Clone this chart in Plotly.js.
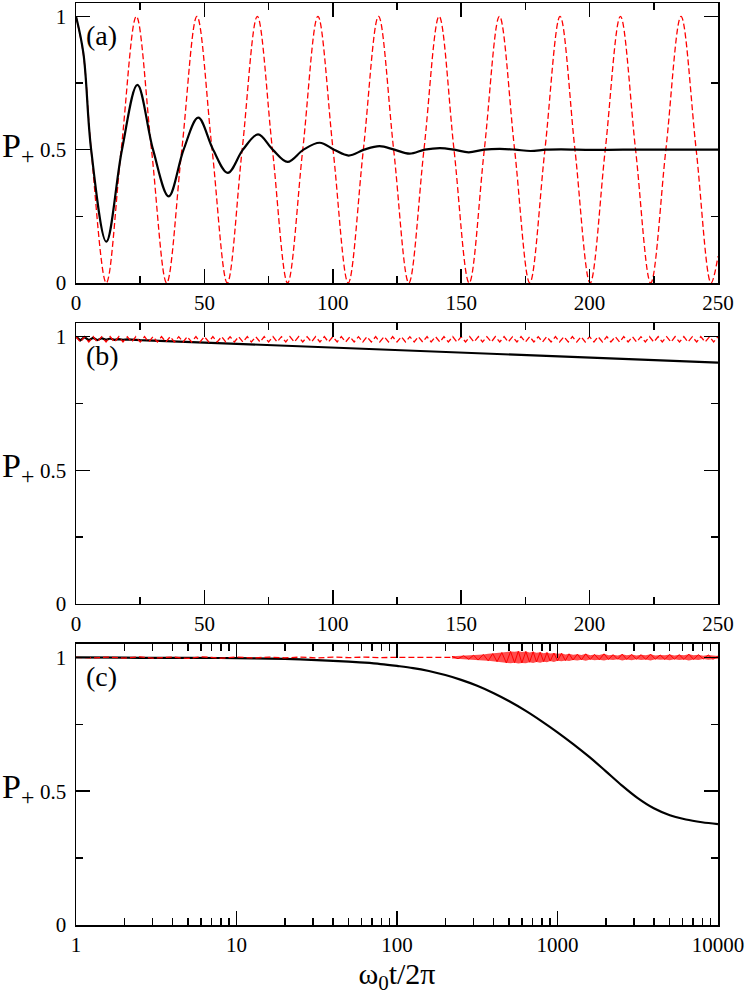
<!DOCTYPE html>
<html>
<head>
<meta charset="utf-8">
<script src="https://cdn.plot.ly/plotly-3.0.1.min.js"></script>
<style>
  html, body { margin: 0; padding: 0; background: #fff; }
  #chart { width: 747px; height: 995px; }
</style>
</head>
<body>
<div id="chart"></div>
<script>
// Panel (a): resonant drive — read at quarter periods
const aRedX = [0, 2.9, 5.9, 11.8, 17.6, 23.5, 29.4, 35.3, 41.2, 47.1, 53.0, 58.9, 64.7, 70.6, 76.5, 82.4,
  88.3, 94.2, 100.1, 106.0, 111.9, 117.8, 123.7, 129.6, 135.5, 141.4, 147.2, 153.1, 159.0, 164.9,
  170.8, 176.7, 182.6, 188.5, 194.3, 200.2, 206.1, 212.0, 217.9, 223.8, 229.7, 235.6, 241.5, 247.3, 250];
const aRedY = [1, 0.855, 0.5, 0, 0.5, 1, 0.5, 0, 0.5, 1, 0.5, 0, 0.5, 1, 0.5, 0,
  0.5, 1, 0.5, 0, 0.5, 1, 0.5, 0, 0.5, 1, 0.5, 0, 0.5, 1,
  0.5, 0, 0.5, 1, 0.5, 0, 0.5, 1, 0.5, 0, 0.5, 1, 0.5, 0, 0.1];
const aBlackX = [0, 2.9, 5.9, 11.8, 17.9, 23.9, 30.0, 36.1, 41.9, 47.6, 53.4, 59.1, 65.0, 70.9, 76.6, 82.4,
  88.6, 94.9, 100.5, 106.2, 112.2, 118.2, 124.0, 129.9, 135.8, 141.7, 147.3, 152.9, 158.9, 165.0,
  171.0, 177.0, 183.0, 189.0, 201.0, 213.0, 250];
const aBlackY = [1, 0.86, 0.5, 0.155, 0.5, 0.743, 0.5, 0.325, 0.5, 0.62, 0.5, 0.413, 0.5, 0.557, 0.5, 0.454,
  0.5, 0.526, 0.5, 0.478, 0.5, 0.513, 0.5, 0.485, 0.5, 0.506, 0.5, 0.49, 0.5, 0.503,
  0.5, 0.495, 0.5, 0.501, 0.499, 0.5, 0.5];

// Panel (b): detuned drive — fast small oscillation
const bRedX = [0,1.7,3.3,5,6.7,8.3,10,11.7,13.3,15,16.7,18.3,20,21.7,23.3,25,26.7,28.3,30,31.7,33.3,
  35,36.7,38.3,40,41.7,43.3,45,46.7,48.3,50,51.7,53.3,55,56.7,58.3,60,61.7,63.3,65,66.7,68.3,70,71.7,
  73.3,75,76.7,78.3,80,81.7,83.3,85,86.7,88.3,90,91.7,93.3,95,96.7,98.3,100,101.7,103.3,105,106.7,
  108.3,110,111.7,113.3,115,116.7,118.3,120,121.7,123.3,125,126.7,128.3,130,131.7,133.3,135,136.7,
  138.3,140,141.7,143.3,145,146.7,148.3,150,151.7,153.3,155,156.7,158.3,160,161.7,163.3,165,166.7,
  168.3,170,171.7,173.3,175,176.7,178.3,180,181.7,183.3,185,186.7,188.3,190,191.7,193.3,195,196.7,
  198.3,200,201.7,203.3,205,206.7,208.3,210,211.7,213.3,215,216.7,218.3,220,221.7,223.3,225,226.7,
  228.3,230,231.7,233.3,235,236.7,238.3,240,241.7,243.3,245,246.7,248.3,250];
const bRedY = [1,0.98,1,0.98,1,0.98,1,0.98,1,0.98, 1,0.98,1,0.98,1,0.98,1,0.98,1,0.98,
  1,0.98,1,0.98,1,0.98,1,0.98,1,0.98, 1,0.98,1,0.98,1,0.98,1,0.98,1,0.98,
  1,0.98,1,0.98,1,0.98,1,0.98,1,0.98, 1,0.98,1,0.98,1,0.98,1,0.98,1,0.98,
  1,0.98,1,0.98,1,0.98,1,0.98,1,0.98, 1,0.98,1,0.98,1,0.98,1,0.98,1,0.98,
  1,0.98,1,0.98,1,0.98,1,0.98,1,0.98, 1,0.98,1,0.98,1,0.98,1,0.98,1,0.98,
  1,0.98,1,0.98,1,0.98,1,0.98,1,0.98, 1,0.98,1,0.98,1,0.98,1,0.98,1,0.98,
  1,0.98,1,0.98,1,0.98,1,0.98,1,0.98, 1,0.98,1,0.98,1,0.98,1,0.98,1,0.98,
  1,0.98,1,0.98,1,0.98,1,0.98,1,0.98, 1];
const bBlackX = [0, 1.7, 3.3, 5, 6.7, 8.3, 10, 11.7, 13.3, 15, 16.7, 18.3, 20, 25, 50, 100, 150, 200, 250];
const bBlackY = [1, 0.986, 0.998, 0.987, 0.996, 0.987, 0.994, 0.988, 0.993, 0.988, 0.991, 0.988, 0.99,
  0.987, 0.978, 0.959, 0.94, 0.921, 0.903];

// Panel (c): long times, log axis
const cBlackX = [1, 2, 3, 5, 10, 20, 31.6, 50, 63, 79, 100, 126, 158, 200, 251, 316, 398, 501, 631, 794,
  1000, 1259, 1585, 1995, 2512, 3162, 3981, 5012, 6310, 7943, 10000];
const cBlackY = [1, 0.999, 0.998, 0.998, 0.997, 0.994, 0.99, 0.984, 0.98, 0.975, 0.968, 0.96, 0.949,
  0.934, 0.916, 0.894, 0.867, 0.836, 0.801, 0.762, 0.72, 0.675, 0.627, 0.575, 0.522, 0.474, 0.436,
  0.41, 0.394, 0.384, 0.377];
const cRedX = [1, 1.3, 1.6, 2, 2.5, 3, 4, 5, 6, 8, 10, 13, 16, 20, 25, 32, 40, 50, 63, 80, 100, 125, 160, 200, 230];
const cRedY = [1, 0.998, 1.001, 0.997, 1.002, 0.997, 1.001, 0.996, 1.002, 0.997, 1.001, 0.998, 1.001,
  0.998, 1.001, 0.998, 1.001, 0.999, 1.001, 0.999, 1.0, 1.0, 1.0, 1.0, 1.0];
const cBandX = [220, 240, 260, 280, 300, 320, 345, 370, 395, 420, 450, 480, 510, 540, 570, 600, 635, 670,
  705, 740, 780, 820, 860, 900, 950, 1000, 1060, 1120, 1180, 1250, 1330, 1410, 1500, 1600, 1700, 1820,
  1950, 2080, 2220, 2370, 2530, 2700, 2900, 3100, 3320, 3550, 3800, 4070, 4360, 4670, 5000, 5350, 5730,
  6140, 6580, 7050, 7550, 8100, 8700, 9300, 10000];
const cBandHi = [1.004, 1.005, 1.006, 1.007, 1.008, 1.01, 1.011, 1.013, 1.014, 1.016, 1.018, 1.02, 1.022,
  1.021, 1.023, 1.02, 1.022, 1.018, 1.021, 1.017, 1.019, 1.015, 1.018, 1.014, 1.016, 1.013, 1.015, 1.011,
  1.013, 1.01, 1.012, 1.009, 1.013, 1.008, 1.011, 1.009, 1.013, 1.008, 1.01, 1.007, 1.012, 1.008, 1.011,
  1.007, 1.01, 1.008, 1.012, 1.007, 1.009, 1.008, 1.011, 1.007, 1.01, 1.008, 1.012, 1.008, 1.01, 1.006,
  1.009, 1.007, 1.005];
const cBandLo = [0.996, 0.995, 0.994, 0.993, 0.991, 0.99, 0.988, 0.987, 0.985, 0.984, 0.982, 0.979, 0.978,
  0.98, 0.977, 0.979, 0.978, 0.982, 0.979, 0.983, 0.98, 0.984, 0.982, 0.986, 0.983, 0.987, 0.985, 0.988,
  0.986, 0.99, 0.988, 0.991, 0.987, 0.992, 0.989, 0.991, 0.988, 0.992, 0.99, 0.993, 0.988, 0.992, 0.989,
  0.993, 0.99, 0.992, 0.988, 0.993, 0.991, 0.992, 0.989, 0.993, 0.99, 0.992, 0.988, 0.992, 0.99, 0.994,
  0.991, 0.993, 0.995];

const logTicks = [1, 10, 100, 1000, 10000];
const logTickText = ['1', '10', '100', '1000', '10000'];
const logMinor = [2, 3, 4, 5, 6, 7, 8, 9, 20, 30, 40, 50, 60, 70, 80, 90, 200, 300, 400, 500, 600, 700, 800, 900,
  2000, 3000, 4000, 5000, 6000, 7000, 8000, 9000];
const panelLabels = ['(a)', '(b)', '(c)'];

const SERIF = "'Liberation Serif', 'Times New Roman', serif";
const RED = '#ff0000';
const DASH = '6px,3px';

// zigzag between the envelope edges so the band reads as fast oscillation
const cZigY = cBandX.map((_, i) => (i % 2 ? cBandLo[i] : cBandHi[i]));

const traces = [
  { x: aRedX, y: aRedY, xaxis: 'x', yaxis: 'y', mode: 'lines',
    line: { color: RED, width: 1.3, dash: DASH, shape: 'spline', smoothing: 1 } },
  { x: aBlackX, y: aBlackY, xaxis: 'x', yaxis: 'y', mode: 'lines',
    line: { color: '#000', width: 2.2, shape: 'spline', smoothing: 1 } },

  { x: bBlackX, y: bBlackY, xaxis: 'x2', yaxis: 'y2', mode: 'lines',
    line: { color: '#000', width: 2.2 } },
  { x: bRedX, y: bRedY, xaxis: 'x2', yaxis: 'y2', mode: 'lines',
    line: { color: RED, width: 1.3, dash: DASH } },

  { x: cBlackX, y: cBlackY, xaxis: 'x3', yaxis: 'y3', mode: 'lines',
    line: { color: '#000', width: 2.2, shape: 'spline', smoothing: 1 } },
  { x: cRedX, y: cRedY, xaxis: 'x3', yaxis: 'y3', mode: 'lines',
    line: { color: RED, width: 1.3, dash: DASH } },
  { x: cBandX, y: cBandHi, xaxis: 'x3', yaxis: 'y3', mode: 'lines',
    line: { color: 'rgba(255,0,0,0)', width: 0 } },
  { x: cBandX, y: cBandLo, xaxis: 'x3', yaxis: 'y3', mode: 'lines', fill: 'tonexty',
    fillcolor: 'rgba(255,0,0,0.7)', line: { color: 'rgba(255,0,0,0)', width: 0 } },
  { x: cBandX, y: cZigY, xaxis: 'x3', yaxis: 'y3', mode: 'lines',
    line: { color: RED, width: 1 } },
];

const tickFont = { family: SERIF, size: 21, color: '#000' };

function yAxis(domain, anchor) {
  return {
    domain, anchor, range: [0, 1.05], tick0: 0, dtick: 0.5,
    ticks: 'inside', ticklen: 14, tickwidth: 1.5, tickcolor: '#000',
    showline: true, linewidth: 1.5, linecolor: '#000', mirror: 'ticks',
    showgrid: false, zeroline: false, tickfont: tickFont, ticklabelstandoff: 4,
    minor: { tickmode: 'array', tickvals: [0.25, 0.75], ticks: 'inside', ticklen: 7,
      tickwidth: 1.5, tickcolor: '#000', showgrid: false },
  };
}

function xLin(anchor) {
  return {
    anchor, range: [0, 250], tick0: 0, dtick: 50,
    ticks: 'inside', ticklen: 14, tickwidth: 1.5, tickcolor: '#000',
    showline: true, linewidth: 1.5, linecolor: '#000', mirror: 'ticks',
    showgrid: false, zeroline: false, tickfont: tickFont,
    minor: { tickmode: 'array', tickvals: [25, 75, 125, 175, 225], ticks: 'inside', ticklen: 7,
      tickwidth: 1.5, tickcolor: '#000', showgrid: false },
  };
}

const annotations = [];
['y', 'y2', 'y3'].forEach((ya, i) => {
  const xa = ['x', 'x2', 'x3'][i];
  annotations.push({
    xref: 'paper', yref: ya, x: 0, y: 0.5, xanchor: 'left', yanchor: 'middle', xshift: -76, yshift: 2,
    text: 'P<sub>+</sub>', showarrow: false, font: { family: SERIF, size: 34, color: '#000' },
  });
  annotations.push({
    xref: xa + ' domain', yref: ya, x: 0, y: 0.915, xanchor: 'left', yanchor: 'middle', xshift: 8, yshift: 4,
    text: panelLabels[i], showarrow: false, font: { family: SERIF, size: 28, color: '#000' },
  });
});

const layout = {
  width: 747, height: 995,
  margin: { l: 76, r: 29, t: 3, b: 70 },
  paper_bgcolor: '#fff', plot_bgcolor: '#fff',
  showlegend: false,
  font: { family: SERIF, color: '#000' },
  xaxis: xLin('y'),
  yaxis: yAxis([0.6963, 1], 'x'),
  xaxis2: xLin('y2'),
  yaxis2: yAxis([0.3482, 0.6526], 'x2'),
  xaxis3: {
    anchor: 'y3', type: 'log', range: [0, 4],
    tickmode: 'array', tickvals: logTicks, ticktext: logTickText,
    ticks: 'inside', ticklen: 14, tickwidth: 1.5, tickcolor: '#000',
    showline: true, linewidth: 1.5, linecolor: '#000', mirror: 'ticks',
    showgrid: false, zeroline: false, tickfont: tickFont,
    minor: { tickmode: 'array', tickvals: logMinor, ticks: 'inside', ticklen: 7,
      tickwidth: 1.5, tickcolor: '#000', showgrid: false },
    title: { text: 'ω<sub>0</sub>t/2π', font: { family: SERIF, size: 30, color: '#000' }, standoff: 8 },
  },
  yaxis3: yAxis([0, 0.3048], 'x3'),
  annotations,
};

Plotly.newPlot('chart', traces, layout, { displayModeBar: false, staticPlot: true });
</script>
</body>
</html>
